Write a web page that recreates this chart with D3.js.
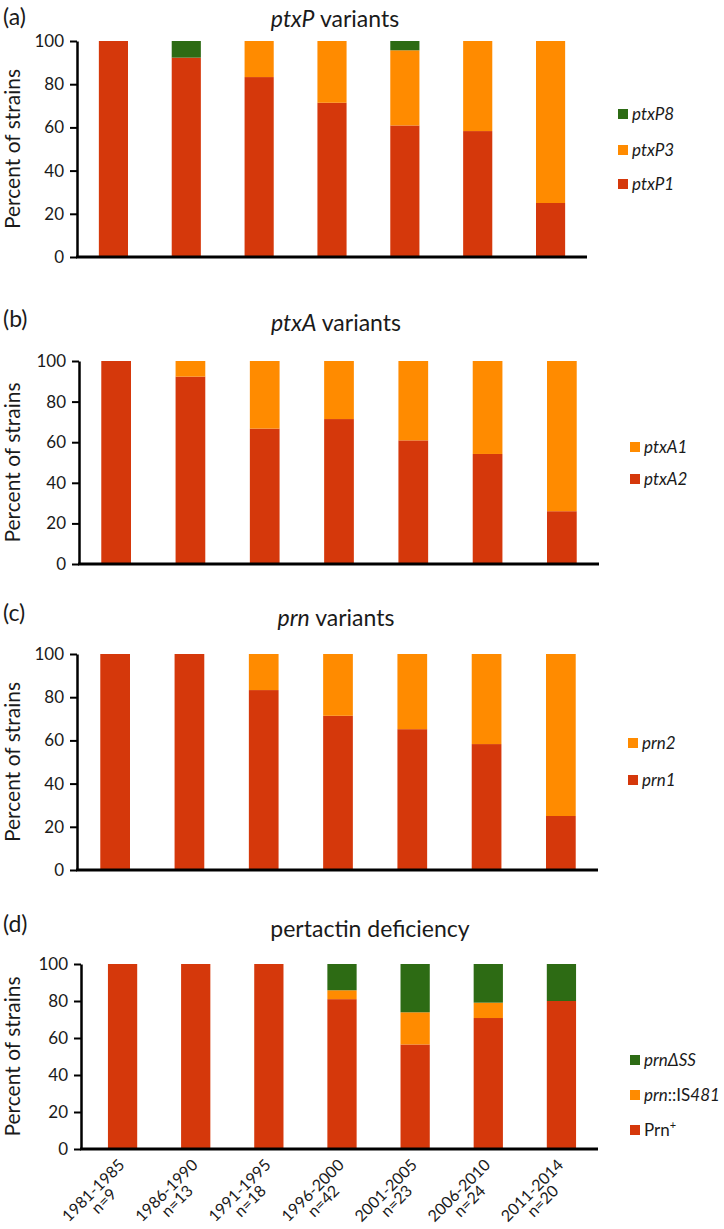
<!DOCTYPE html>
<html><head><meta charset="utf-8">
<script src="https://cdn.jsdelivr.net/npm/d3@7"></script>
<style>
body{margin:0;background:#fff}
svg{display:block}
text{font-family:Lato,"Open Sans",sans-serif;fill:#1a1a1a}
</style>
</head><body>
<svg id="chart" width="724" height="1229"></svg>
<script>
// ---------- data ----------
const categories = ["1981-1985","1986-1990","1991-1995","1996-2000","2001-2005","2006-2010","2011-2014"];
const sampleSizes = ["n=9","n=13","n=18","n=42","n=23","n=24","n=20"];
const yTicks = [0,20,40,60,80,100];

const ptxP1 = [100, 92.3, 83.3, 71.4, 60.9, 58.3, 25];
const ptxP3 = [0, 0, 16.7, 28.6, 34.8, 41.7, 75];
const ptxP8 = [0, 7.7, 0, 0, 4.3, 0, 0];

const ptxA2 = [100, 92.3, 66.7, 71.4, 60.9, 54.2, 26];
const ptxA1 = [0, 7.7, 33.3, 28.6, 39.1, 45.8, 74];

const prn1 = [100, 100, 83.3, 71.4, 65.2, 58.3, 25];
const prn2 = [0, 0, 16.7, 28.6, 34.8, 41.7, 75];

const prnPlus = [100, 100, 100, 81.0, 56.5, 70.8, 80];
const prnIS481 = [0, 0, 0, 4.8, 17.4, 8.3, 0];
const prnDeltaSS = [0, 0, 0, 14.2, 26.1, 20.9, 20];

// ---------- style ----------
const RED = "#D5380B", ORANGE = "#FF8B00", GREEN = "#2D6B14";

const panels = [
  { label:"(a)", titleItalic:"ptxP", titleRest:" variants",
    series:[{key:"ptxP1",values:ptxP1,color:RED},{key:"ptxP3",values:ptxP3,color:ORANGE},{key:"ptxP8",values:ptxP8,color:GREEN}],
    legend:[{parts:[["ptxP8",true]],color:GREEN,y:114},{parts:[["ptxP3",true]],color:ORANGE,y:150},{parts:[["ptxP1",true]],color:RED,y:184}],
    legendX:618, labelY:25, titleY:27, titleX:335,
    top:41, bottom:257, axisX:77, axisEnd:587, bandStart:77 },
  { label:"(b)", titleItalic:"ptxA", titleRest:" variants",
    series:[{key:"ptxA2",values:ptxA2,color:RED},{key:"ptxA1",values:ptxA1,color:ORANGE}],
    legend:[{parts:[["ptxA1",true]],color:ORANGE,y:447},{parts:[["ptxA2",true]],color:RED,y:479}],
    legendX:630, labelY:327, titleY:331, titleX:336,
    top:361, bottom:564, axisX:79, axisEnd:599, bandStart:79 },
  { label:"(c)", titleItalic:"prn", titleRest:" variants",
    series:[{key:"prn1",values:prn1,color:RED},{key:"prn2",values:prn2,color:ORANGE}],
    legend:[{parts:[["prn2",true]],color:ORANGE,y:743},{parts:[["prn1",true]],color:RED,y:780}],
    legendX:628, labelY:621, titleY:626, titleX:336,
    top:654, bottom:870, axisX:77, axisEnd:598, bandStart:78 },
  { label:"(d)", titleItalic:"", titleRest:"pertactin deficiency",
    series:[{key:"prnPlus",values:prnPlus,color:RED},{key:"prnIS481",values:prnIS481,color:ORANGE},{key:"prnDeltaSS",values:prnDeltaSS,color:GREEN}],
    legend:[{parts:[["prnΔSS",true]],color:GREEN,y:1060},{parts:[["prn",true],["::IS",false],["481",true]],color:ORANGE,y:1095},{parts:[["Prn",false],["+",false,true]],color:RED,y:1130}],
    legendX:630, labelY:932, titleY:937, titleX:370,
    top:964, bottom:1149, axisX:81, axisEnd:598, bandStart:86, xLabels:true }
];

const svg = d3.select("#chart");

panels.forEach(p => {
  const g = svg.append("g");
  const x = d3.scaleBand().domain(categories).range([p.bandStart, p.axisEnd]).paddingInner(0.6).paddingOuter(0.3);
  const y = d3.scaleLinear().domain([0,100]).range([p.bottom, p.top]);

  const table = categories.map((c,i) => { const o = {cat:c}; p.series.forEach(s => o[s.key] = s.values[i]); return o; });
  const stacked = d3.stack().keys(p.series.map(s => s.key))(table);

  g.append("g").selectAll("g").data(stacked).join("g")
    .attr("fill", (d,i) => p.series[i].color)
    .selectAll("rect").data(d => d).join("rect")
      .attr("x", d => x(d.data.cat))
      .attr("width", x.bandwidth())
      .attr("y", d => y(d[1]))
      .attr("height", d => Math.max(0, y(d[0]) - y(d[1])));

  // y axis
  const ya = g.append("g").attr("transform", `translate(${p.axisX},0)`)
    .call(d3.axisLeft(y).tickValues(yTicks).tickSize(7).tickSizeOuter(0).tickPadding(6));
  ya.select(".domain").attr("stroke","#000").attr("stroke-width",2.5);
  ya.selectAll(".tick line").attr("stroke","#000").attr("stroke-width",2);
  ya.selectAll(".tick text").style("font-family","Lato").style("font-size","17px").attr("fill","#222");

  // x axis
  const xa = g.append("g").attr("transform", `translate(0,${p.bottom})`)
    .call(d3.axisBottom(x).tickSize(0).tickFormat(""));
  xa.select(".domain").attr("d", `M${p.axisX-1},0H${p.axisEnd}`).attr("stroke","#000").attr("stroke-width",3);

  // panel label and title
  g.append("text").attr("x",3).attr("y",p.labelY).style("font-size","23px").text(p.label);
  const t = g.append("text").attr("x",p.titleX).attr("y",p.titleY).attr("text-anchor","middle").style("font-size","23px");
  if (p.titleItalic) t.append("tspan").style("font-style","italic").text(p.titleItalic);
  t.append("tspan").text(p.titleRest);

  // y title
  g.append("text")
    .attr("transform", `translate(20,${(p.top+p.bottom)/2}) rotate(-90)`)
    .attr("text-anchor","middle").style("font-size","21px").text("Percent of strains");

  // legend
  const lg = g.append("g");
  p.legend.forEach(item => {
    lg.append("rect").attr("x",p.legendX).attr("y",item.y-5).attr("width",10).attr("height",10).attr("fill",item.color);
    const tx = lg.append("text").attr("x",p.legendX+14).attr("y",item.y+6).style("font-size","17px");
    item.parts.forEach(([s,it,sup]) => {
      const ts = tx.append("tspan").text(s).style("font-style", it ? "italic" : "normal");
      if (sup) ts.attr("dy",-7).style("font-size","11px");
    });
  });

  // category labels (bottom panel only)
  if (p.xLabels) {
    categories.forEach((c,i) => {
      const cx = x(c) + x.bandwidth()/2;
      const lab = g.append("g").attr("transform", `translate(${cx+3},${p.bottom+17}) rotate(-45)`);
      const l1 = lab.append("text").attr("text-anchor","end").style("font-size","16px").text(c);
      const w1 = l1.node().getComputedTextLength();
      lab.append("text").attr("x",-w1/2).attr("y",15).attr("text-anchor","middle").style("font-size","16px").text(sampleSizes[i]);
    });
  }
});
</script>
</body></html>
